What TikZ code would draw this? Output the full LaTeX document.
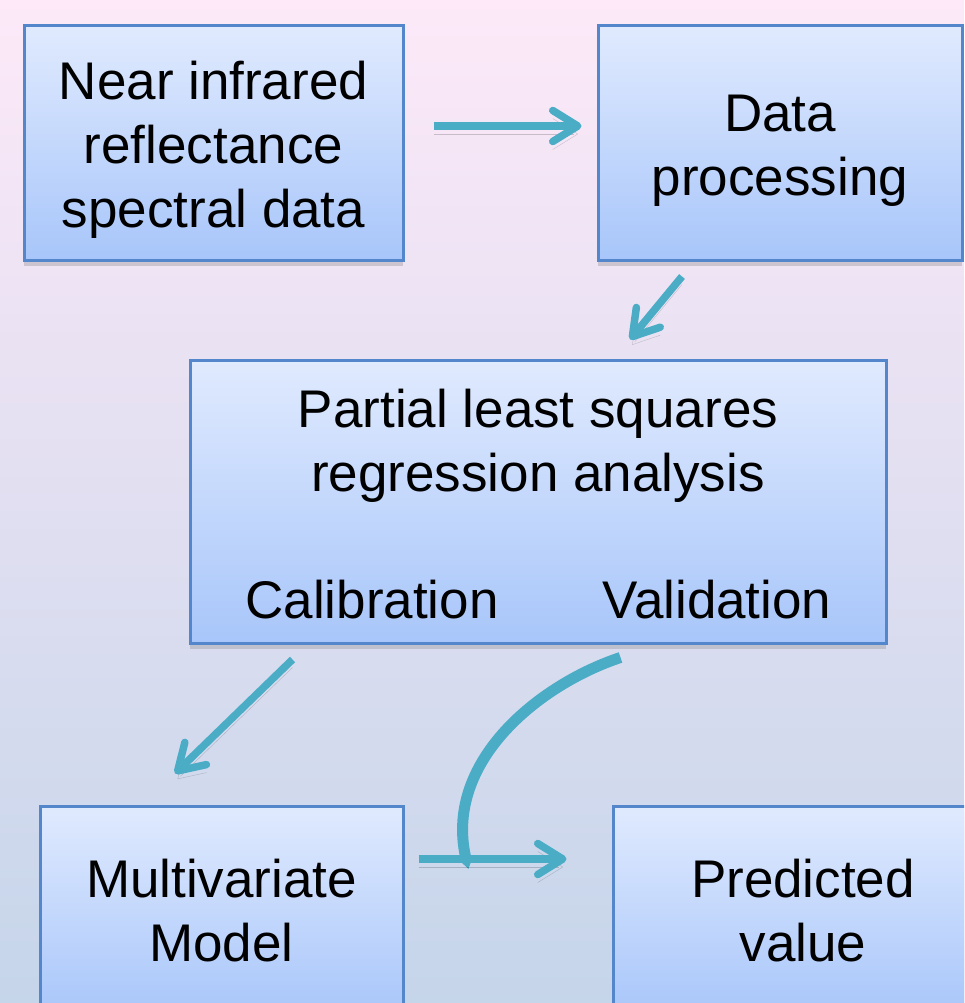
\documentclass[tikz,border=0pt]{standalone}
\usepackage{fontspec}
\setmainfont{Liberation Sans}
\usetikzlibrary{arrows.meta,shadows}
\definecolor{flowarrow}{RGB}{75,172,198}
\definecolor{boxtop}{RGB}{224,234,254}
\definecolor{boxbottom}{RGB}{168,198,250}
\definecolor{boxline}{RGB}{84,134,204}
\definecolor{pagetop}{RGB}{253,233,248}
\definecolor{pagebottom}{RGB}{197,213,234}

\begin{document}
\begin{tikzpicture}[x=1pt,y=-1pt,
boxtext/.style = {
    align=center, inner sep=0pt,
    font=\fontsize{53}{64}\selectfont,
                },
box/.style = {
    boxtext,
    draw=boxline, line width=3pt,
    top color=boxtop, bottom color=boxbottom,
    drop shadow={shadow xshift=0pt,shadow yshift=-6pt,opacity=0.3},
                },
flow/.style = {
    draw=flowarrow, line width=7.5pt,
    -{Straight Barb[length=25pt,width=31pt,round]},
    preaction={draw=black,opacity=0.18,transform canvas={yshift=-8pt}},
                },
curvedflow/.style = {
    draw=flowarrow, line width=11pt,
    -{Triangle[length=9pt,width=11pt]},
                },
                    ]
\clip (0,0) rectangle (964,1003);
\shade[top color=pagetop,bottom color=pagebottom] (0,0) rectangle (964,1003);
% boxes
\node[box,minimum width=379pt,minimum height=234pt] (nirs) at (213.5,143) {};
\node[boxtext] (nirstext) at (213.5,150) {Near infrared\\reflectance\\spectral data};
\node[box,minimum width=364pt,minimum height=234pt] (proc) at (780,143) {};
\node[boxtext] (proctext) at (780,151) {Data\\processing};
\node[box,minimum width=696pt,minimum height=283pt] (plsr) at (538,501.5) {};
\node[boxtext] (plsrtitle) at (538,446) {Partial least squares\\regression analysis};
\node[boxtext] (calib) at (372,600) {Calibration};
\node[boxtext] (valid) at (717,600) {Validation};
\node[box,minimum width=363pt,minimum height=210pt] (model) at (221.5,911)
    {Multivariate\\Model};
\node[box,minimum width=380pt,minimum height=210pt] (pred) at (803,911)
    {Predicted\\value};
% arrows
\draw[flow] ([shift={(29,-17)}]nirs.east) -- ([shift={(-15,-17)}]proc.west);
\draw[flow] ([shift={(-98,15)}]proc.south) -- ([shift={(92,-19)}]plsr.north);
\draw[flow] ([shift={(104,15)}]plsr.south west) -- ([shift={(-46.5,-31)}]model.north);
\draw[curvedflow] ([shift={(-267,13)}]plsr.south east)
    .. controls +(-79,26) and +(-27,-108) .. ([shift={(64,-42)}]model.east);
\draw[flow] ([shift={(14,-52)}]model.east) -- ([shift={(-45,-52)}]pred.west);
\end{tikzpicture}
\end{document}
